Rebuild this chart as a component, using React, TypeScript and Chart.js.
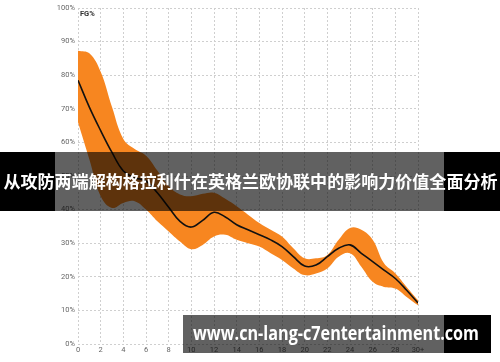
import React, { useEffect, useRef } from "react";
import { Chart, registerables } from "chart.js";

Chart.register(...registerables);

// Shot distance (ft) – 30 stands for "30+"
const distances = [0, 1, 2, 3, 4, 5, 6, 7, 8, 9, 10, 11, 12, 13, 14, 15, 16, 17, 18, 19, 20, 21, 22, 23, 24, 25, 26, 27, 28, 29, 30];
const meanFG = [78.5, 70.5, 63.5, 57, 51.5, 49.5, 48.5, 45, 40.7, 36.5, 34.8, 36.8, 39.2, 37.8, 35.5, 34, 32.5, 31, 29, 26, 23.2, 23.5, 26, 28.5, 29.5, 27, 24.5, 22, 19.5, 16, 12.2];
const upperFG = [87.3, 86.5, 81, 70.5, 61, 58, 56, 51.6, 47, 44.5, 44, 44.7, 45, 43.2, 41, 38.5, 36, 34, 32, 28.5, 25.5, 25.5, 26.5, 31, 34.5, 34, 31, 24, 21, 17, 13];
const lowerFG = [66, 55, 44, 40.5, 42, 42.5, 40, 36.5, 33.5, 30.5, 28.2, 29.5, 32, 32.5, 31, 30, 29, 27, 25, 22.5, 20.5, 21, 22.5, 26, 27, 23, 18.5, 17, 16.5, 14, 11.5];
const xTickLabels = ["0", "2", "4", "6", "8", "10", "12", "14", "16", "18", "20", "22", "24", "26", "28", "30+"];
const yTickLabels = ["0%", "10%", "20%", "30%", "40%", "50%", "60%", "70%", "80%", "90%", "100%"];

const titleText = "从攻防两端解构格拉利什在英格兰欧协联中的影响力价值全面分析";
const watermarkText = "www.cn-lang-c7entertainment.com";
const seriesLabel = "FG%";

const ORANGE = "rgb(247,134,32)";

function toPoints(vals: number[]) {
  return vals.map((v, i) => ({ x: distances[i], y: v }));
}

export default function App() {
  const canvasRef = useRef<HTMLCanvasElement | null>(null);
  const wmRef = useRef<HTMLSpanElement | null>(null);
  const titleRef = useRef<HTMLSpanElement | null>(null);

  useEffect(() => {
    const canvas = canvasRef.current;
    if (!canvas) return;
    const tickFont = { family: "Roboto", size: 7.5 };
    const chart = new Chart(canvas, {
      type: "line",
      data: {
        datasets: [
          {
            label: "mean",
            data: toPoints(meanFG),
            borderColor: "#111",
            borderWidth: 1.6,
            pointRadius: 0,
            fill: false,
            tension: 0.4,
          },
          {
            label: "upper",
            data: toPoints(upperFG),
            borderWidth: 0,
            borderColor: "rgba(0,0,0,0)",
            backgroundColor: ORANGE,
            pointRadius: 0,
            fill: "+1",
            tension: 0.4,
          },
          {
            label: "lower",
            data: toPoints(lowerFG),
            borderWidth: 0,
            borderColor: "rgba(0,0,0,0)",
            pointRadius: 0,
            fill: false,
            tension: 0.4,
          },
        ],
      },
      options: {
        responsive: false,
        animation: false,
        layout: { padding: { left: 0, right: 82, top: 8, bottom: 0 } },
        plugins: { legend: { display: false }, tooltip: { enabled: false } },
        scales: {
          x: {
            type: "linear",
            min: 0,
            max: 30,
            afterFit: (s: any) => {
              s.height = 18;
            },
            ticks: {
              stepSize: 2,
              padding: 2,
              color: "#666",
              font: tickFont,
              maxRotation: 0,
              autoSkip: false,
              callback: (v: any) => xTickLabels[Math.round(Number(v) / 2)] ?? "",
            },
            grid: { color: "#cfcfcf", lineWidth: 1, drawTicks: false },
            border: { display: false, dash: [2, 2] },
          },
          y: {
            min: 0,
            max: 100,
            afterFit: (s: any) => {
              s.width = 78;
            },
            ticks: {
              stepSize: 10,
              padding: 3,
              color: "#666",
              font: tickFont,
              callback: (v: any) => yTickLabels[Math.round(Number(v) / 10)] ?? "",
            },
            grid: { color: "#cfcfcf", lineWidth: 1, drawTicks: false },
            border: { display: false, dash: [2, 2] },
          },
        },
      },
    } as any);

    const wm = wmRef.current;
    if (wm) {
      const w = wm.getBoundingClientRect().width;
      if (w > 0) wm.style.transform = `scaleX(${286 / w})`;
    }
    const tt = titleRef.current;
    if (tt) {
      const w = tt.getBoundingClientRect().width;
      if (w > 0) tt.style.transform = `translateX(-50%) scaleX(${494 / w})`;
    }
    return () => chart.destroy();
  }, []);

  return (
    <div style={{ position: "absolute", left: 0, top: 0, width: 500, height: 362, background: "#fff", overflow: "hidden" }}>
      <canvas ref={canvasRef} width={500} height={362} style={{ position: "absolute", left: 0, top: 0, width: 500, height: 362 }} />
      <div style={{ position: "absolute", left: 80, top: 9, fontFamily: "Roboto", fontWeight: 700, fontSize: 7.5, color: "#333" }}>{seriesLabel}</div>
      {/* title banner */}
      <div style={{ position: "absolute", left: 0, top: 152, width: 55, height: 59, background: "#000" }} />
      <div style={{ position: "absolute", left: 55, top: 152, width: 389, height: 59, background: "rgba(0,0,0,0.62)" }} />
      <div style={{ position: "absolute", left: 444, top: 152, width: 56, height: 59, background: "#000" }} />
      <span ref={titleRef} style={{ position: "absolute", left: 250, top: 172, color: "#fff", fontFamily: "'Noto Sans CJK SC'", fontWeight: 700, fontSize: 17, whiteSpace: "nowrap", lineHeight: "18px", display: "inline-block", transformOrigin: "0 0", transform: "translateX(-50%)" }}>
        {titleText}
      </span>
      {/* watermark */}
      <div style={{ position: "absolute", left: 183, top: 315, width: 261, height: 38, background: "rgba(0,0,0,0.62)" }} />
      <div style={{ position: "absolute", left: 444, top: 315, width: 47, height: 38, background: "#000" }} />
      <span ref={wmRef} style={{ position: "absolute", left: 193, top: 322, color: "#fff", fontFamily: "'Open Sans'", fontWeight: 700, fontSize: 19, lineHeight: "22px", whiteSpace: "nowrap", transformOrigin: "0 0", display: "inline-block" }}>
        {watermarkText}
      </span>
    </div>
  );
}
